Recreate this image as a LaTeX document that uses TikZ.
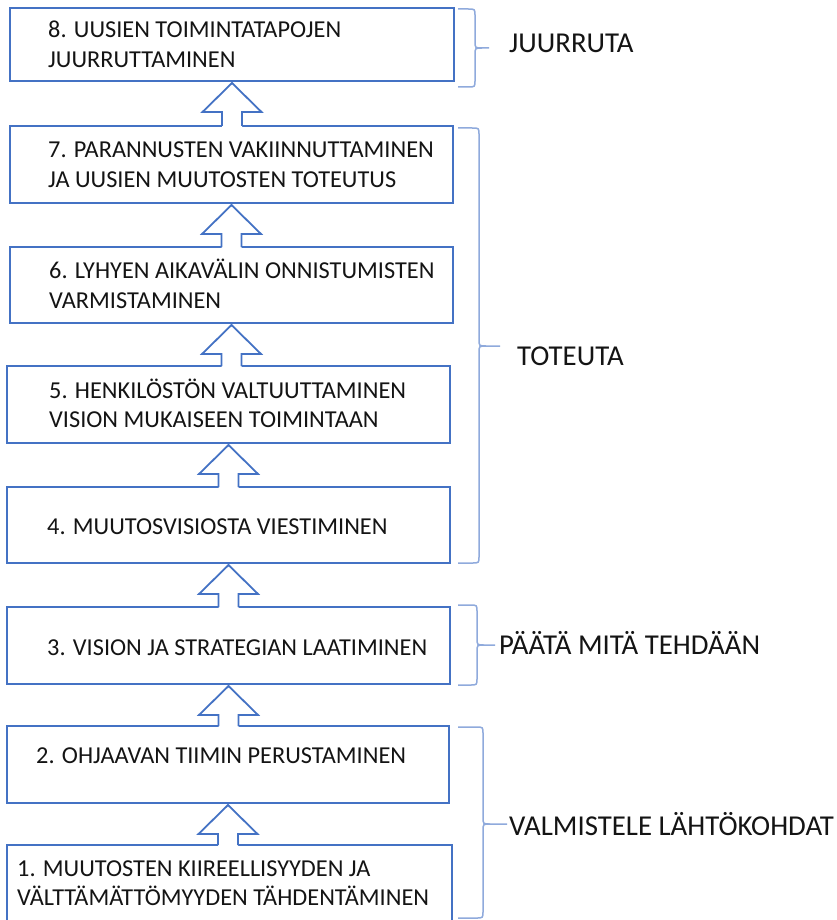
\documentclass[tikz,border=0pt]{standalone}
\usepackage{fontspec}
\setmainfont{Carlito}
\usetikzlibrary{calc}
\definecolor{boxblue}{HTML}{4472C4}
\definecolor{braceblue}{HTML}{8FAADC}
\definecolor{txt}{HTML}{141414}
% brace: xl, xv, xt, y1, yt, y2
\newcommand{\mybrace}[6]{%
  \draw[bracestyle] (#1,#4) -- ({#2-7},#4) .. controls (#2,#4) .. (#2,{#4+7}) -- (#2,{#5-7}) .. controls (#2,#5) .. ({#2+7},#5) -- (#3,#5);
  \draw[bracestyle] ({#2+7},#5) .. controls (#2,#5) .. (#2,{#5+7}) -- (#2,{#6-7}) .. controls (#2,#6) .. ({#2-7},#6) -- (#1,#6);
}
% block arrow from upper box #1 to lower box #2
\newcommand{\blockup}[2]{%
  \coordinate (#1-tip) at ($(#1.south)+(0,2)$);
  \coordinate (#1-hl) at ($(#1-tip)+(-29.5,29)$);
  \coordinate (#1-hr) at ($(#1-tip)+(29.5,29)$);
  \coordinate (#1-sl) at ($(#1-tip)+(-10,29)$);
  \coordinate (#1-sr) at ($(#1-tip)+(10,29)$);
  \coordinate (#1-bl) at (#1-sl |- #2.north);
  \coordinate (#1-br) at (#1-sr |- #2.north);
  \fill[white] (#1-tip) -- (#1-hr) -- (#1-sr) -- ($(#1-br)+(0,1.5)$) -- ($(#1-bl)+(0,1.5)$) -- (#1-sl) -- (#1-hl) -- cycle;
  \draw[blockarrow] (#1-br) -- (#1-sr) -- (#1-hr) -- (#1-tip) -- (#1-hl) -- (#1-sl) -- (#1-bl);
}
\begin{document}
\begin{tikzpicture}[x=1pt,y=-1pt,
  stepbox/.style={draw=boxblue, line width=1.8pt, rectangle, inner sep=0pt, outer sep=0pt},
  boxtext/.style={anchor=base west, inner sep=0pt, text=txt, font=\fontsize{24.3}{29}\selectfont},
  phase/.style={anchor=base west, inner sep=0pt, text=txt, font=\fontsize{28.8}{34}\selectfont},
  blockarrow/.style={draw=boxblue, line width=1.8pt, line join=miter},
  bracestyle/.style={draw=braceblue, line width=1.5pt}]
\useasboundingbox (0,0) rectangle (836,920);
\fill[white] (0,0) rectangle (836,920);

% boxes
\node[stepbox, minimum width=444pt, minimum height=73pt] (b8) at (232,44.5) {};
\node[stepbox, minimum width=443pt, minimum height=77pt] (b7) at (231.5,164.5) {};
\node[stepbox, minimum width=443pt, minimum height=76pt] (b6) at (231.5,285) {};
\node[stepbox, minimum width=443pt, minimum height=77pt] (b5) at (228.5,404.5) {};
\node[stepbox, minimum width=443pt, minimum height=76pt] (b4) at (228.5,525) {};
\node[stepbox, minimum width=443pt, minimum height=77pt] (b3) at (228.5,645.5) {};
\node[stepbox, minimum width=442pt, minimum height=77pt] (b2) at (228,764.5) {};
\node[stepbox, minimum width=445pt, minimum height=80pt] (b1) at (229.5,885) {};

% texts
\node[boxtext] (t8a) at (48,38) {8. UUSIEN TOIMINTATAPOJEN};
\node[boxtext] (t8b) at (48,68) {JUURRUTTAMINEN};
\node[boxtext] (t7a) at (48,158) {7. PARANNUSTEN VAKIINNUTTAMINEN};
\node[boxtext] (t7b) at (48,188) {JA UUSIEN MUUTOSTEN TOTEUTUS};
\node[boxtext] (t6a) at (49,278) {6. LYHYEN AIKAVÄLIN ONNISTUMISTEN};
\node[boxtext] (t6b) at (49,308) {VARMISTAMINEN};
\node[boxtext] (t5a) at (49,398) {5. HENKILÖSTÖN VALTUUTTAMINEN};
\node[boxtext] (t5b) at (49,427) {VISION MUKAISEEN TOIMINTAAN};
\node[boxtext] (t4) at (47,534) {4. MUUTOSVISIOSTA VIESTIMINEN};
\node[boxtext] (t3) at (47,655) {3. VISION JA STRATEGIAN LAATIMINEN};
\node[boxtext] (t2) at (36,763) {2. OHJAAVAN TIIMIN PERUSTAMINEN};
\node[boxtext] (t1a) at (17,876) {1. MUUTOSTEN KIIREELLISYYDEN JA};
\node[boxtext] (t1b) at (17,905) {VÄLTTÄMÄTTÖMYYDEN TÄHDENTÄMINEN};

% block arrows
\blockup{b8}{b7}
\blockup{b7}{b6}
\blockup{b6}{b5}
\blockup{b5}{b4}
\blockup{b4}{b3}
\blockup{b3}{b2}
\blockup{b2}{b1}

% braces
\mybrace{458}{475}{489}{9}{48}{87}
\mybrace{458}{479}{500}{128}{346}{563}
\mybrace{458}{477}{495}{605}{645}{685}
\mybrace{458}{483}{507}{727}{824}{918}

% phase labels
\node[phase] (p1) at (509,53) {JUURRUTA};
\node[phase] (p2) at (517,365) {TOTEUTA};
\node[phase] (p3) at (499,654) {PÄÄTÄ MITÄ TEHDÄÄN};
\node[phase] (p4) at (509,835) {VALMISTELE LÄHTÖKOHDAT};
\end{tikzpicture}
\end{document}
